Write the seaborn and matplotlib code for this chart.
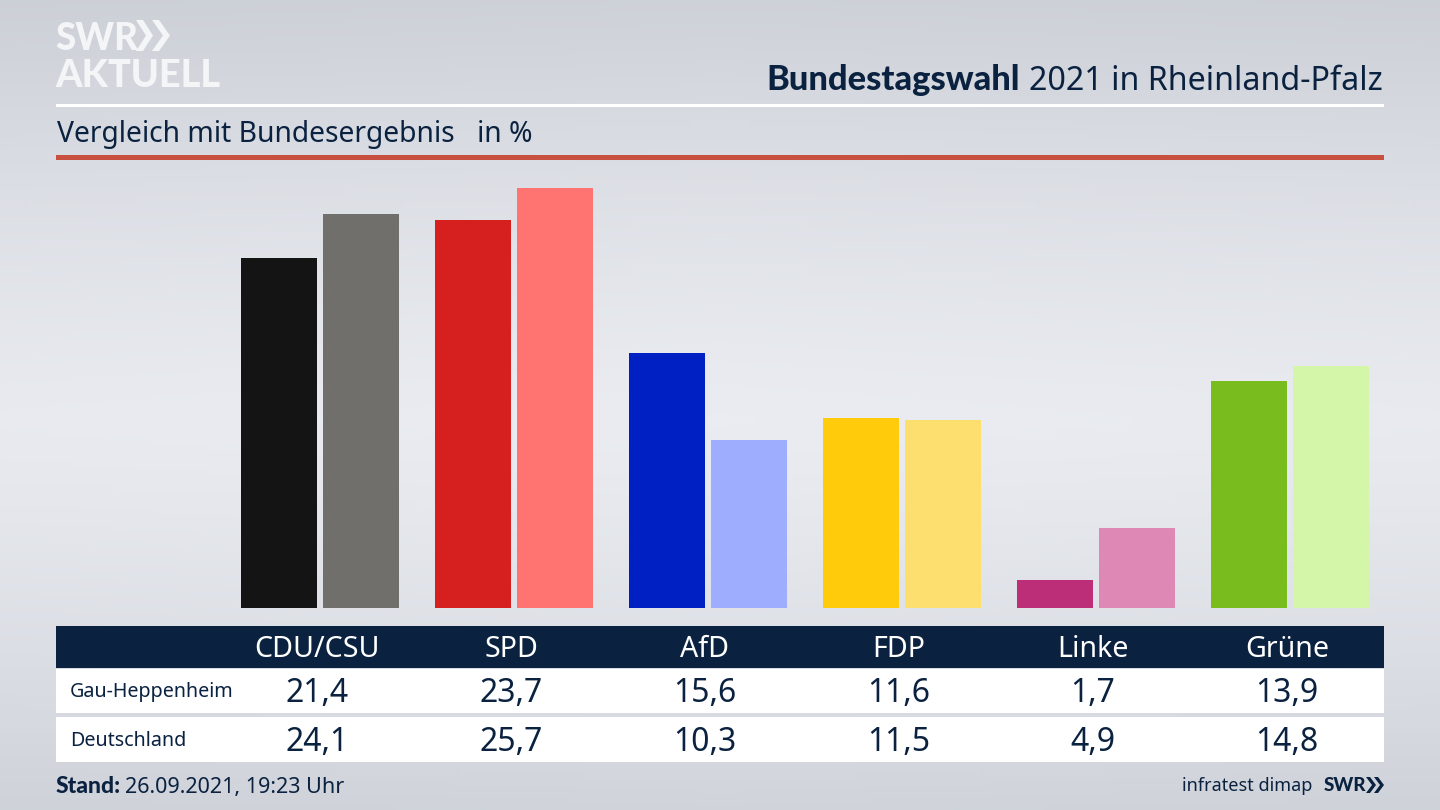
import numpy as np
import pandas as pd
import seaborn as sns
import matplotlib.pyplot as plt
from matplotlib.patches import Rectangle, Polygon

parties = ['CDU/CSU', 'SPD', 'AfD', 'FDP', 'Linke', 'Grüne']
gau = [21.4, 23.7, 15.6, 11.6, 1.7, 13.9]
deutschland = [24.1, 25.7, 10.3, 11.5, 4.9, 14.8]
gau_colors = ['#141414', '#d61f1f', '#0020c4', '#ffcb0a', '#bc2f78', '#78bc1e']
de_colors = ['#706f6c', '#ff7470', '#9fadff', '#fddf70', '#de88b6', '#d3f6a8']
row_names = ['Gau-Heppenheim', 'Deutschland']

NAVY = '#0a2240'
FONT = 'Noto Sans'
BOLD = 'Lato'
LOGO = '#f4f5f7'

sns.set_theme(style='white')
plt.rcParams['font.family'] = [FONT, 'DejaVu Sans']

def de_num(v):
    return f'{v:.1f}'.replace('.', ',')

fig = plt.figure(figsize=(14.4, 8.1), dpi=100)

# background gradient, lighter band in the middle
bg = fig.add_axes([0, 0, 1, 1], zorder=0)
yy, xx = np.mgrid[0:1:200j, 0:1:200j]
shade = np.clip(np.abs(yy - 0.52) / 0.52, 0, 1) ** 1.3 * 0.85 + np.abs(xx - 0.5) * 0.12
bg.imshow(shade, cmap=sns.blend_palette(['#eaecf1', '#c9cdd4'], as_cmap=True),
          vmin=0, vmax=1, extent=[0, 1440, 810, 0], aspect='auto')
bg.set_xlim(0, 1440)
bg.set_ylim(810, 0)
bg.axis('off')

# bars
ax = fig.add_axes([223 / 1440, (810 - 608) / 810, 1164 / 1440, 438 / 810], zorder=1)
df = pd.DataFrame({
    'party': parties * 2,
    'value': gau + deutschland,
    'row': [row_names[0]] * 6 + [row_names[1]] * 6,
})
sns.barplot(data=df, x='party', y='value', hue='row', width=0.845, gap=0.067,
            legend=False, saturation=1, ax=ax)
for cont, cols in zip(ax.containers, [gau_colors, de_colors]):
    for bar, c in zip(cont, cols):
        bar.set_facecolor(c)
        bar.set_edgecolor('none')
ax.set_xlim(-0.5, 5.5)
ax.set_ylim(0, 26.78)
ax.axis('off')

# header, table and footer drawn in pixel coordinates
top = fig.add_axes([0, 0, 1, 1], zorder=2)
top.set_xlim(0, 1440)
top.set_ylim(810, 0)
top.axis('off')
top.patch.set_alpha(0)

top.add_patch(Rectangle((56, 104), 1328, 3, color='white', lw=0))
top.add_patch(Rectangle((56, 155), 1328, 5, color='#c8503f', lw=0))
top.add_patch(Rectangle((56, 626), 1328, 42, color=NAVY, lw=0))
top.add_patch(Rectangle((56, 669), 1328, 44, color='white', lw=0))
top.add_patch(Rectangle((56, 717), 1328, 45, color='white', lw=0))

# logo
top.text(55, 50, 'SWR', color=LOGO, fontsize=26.5, fontweight='black', va='baseline', ha='left', family=BOLD)
top.text(55, 87, 'AKTUELL', color=LOGO, fontsize=27.3, fontweight='black', va='baseline', ha='left', family=BOLD)
for x0, w, y0, y1 in [(136, 17, 20, 51), (152, 18, 20, 51)]:
    ym = (y0 + y1) / 2
    top.add_patch(Polygon([(x0, y0), (x0 + 7, y0), (x0 + w, ym), (x0 + 7, y1), (x0, y1), (x0 + w - 7, ym)],
                          color=LOGO, lw=0))

# title
t2 = top.text(1383, 90, '2021 in Rheinland-Pfalz', color=NAVY, fontsize=23.2, ha='right', va='baseline')
fig.canvas.draw()
bb = t2.get_window_extent()
top.text(bb.x0 - 9, 90, 'Bundestagswahl', color=NAVY, fontsize=24.8, fontweight='black', ha='right', va='baseline', family=BOLD)
top.text(57, 142, 'Vergleich mit Bundesergebnis', color=NAVY, fontsize=20.35, ha='left', va='baseline')
top.text(477, 142, 'in %', color=NAVY, fontsize=20.35, ha='left', va='baseline')

# table
centers = [317, 511, 705, 899, 1093, 1287]
for c, p, a, b in zip(centers, parties, gau, deutschland):
    top.text(c, 657, p, color='white', fontsize=20.6, ha='center', va='baseline')
    top.text(c, 702, de_num(a), color=NAVY, fontsize=23, ha='center', va='baseline')
    top.text(c, 751, de_num(b), color=NAVY, fontsize=23, ha='center', va='baseline')
top.text(70, 697, row_names[0], color=NAVY, fontsize=14.2, ha='left', va='baseline')
top.text(70, 746, row_names[1], color=NAVY, fontsize=14.2, ha='left', va='baseline')

# footer
s = top.text(56, 793, 'Stand:', color=NAVY, fontsize=16.5, fontweight='black', ha='left', va='baseline', family=BOLD)
fig.canvas.draw()
top.text(s.get_window_extent().x1 + 4, 793, '26.09.2021, 19:23 Uhr', color=NAVY, fontsize=15.5, ha='left', va='baseline')
top.text(1312, 791, 'infratest dimap', color=NAVY, fontsize=13, ha='right', va='baseline')
top.text(1324, 791, 'SWR', color=NAVY, fontsize=13.6, fontweight='black', ha='left', va='baseline', family=BOLD)
for x0 in (1366, 1374):
    top.add_patch(Polygon([(x0, 777), (x0 + 4, 777), (x0 + 10, 785), (x0 + 4, 793), (x0, 793), (x0 + 6, 785)],
                          color=NAVY, lw=0))

fig.savefig('out.png', dpi=100)
